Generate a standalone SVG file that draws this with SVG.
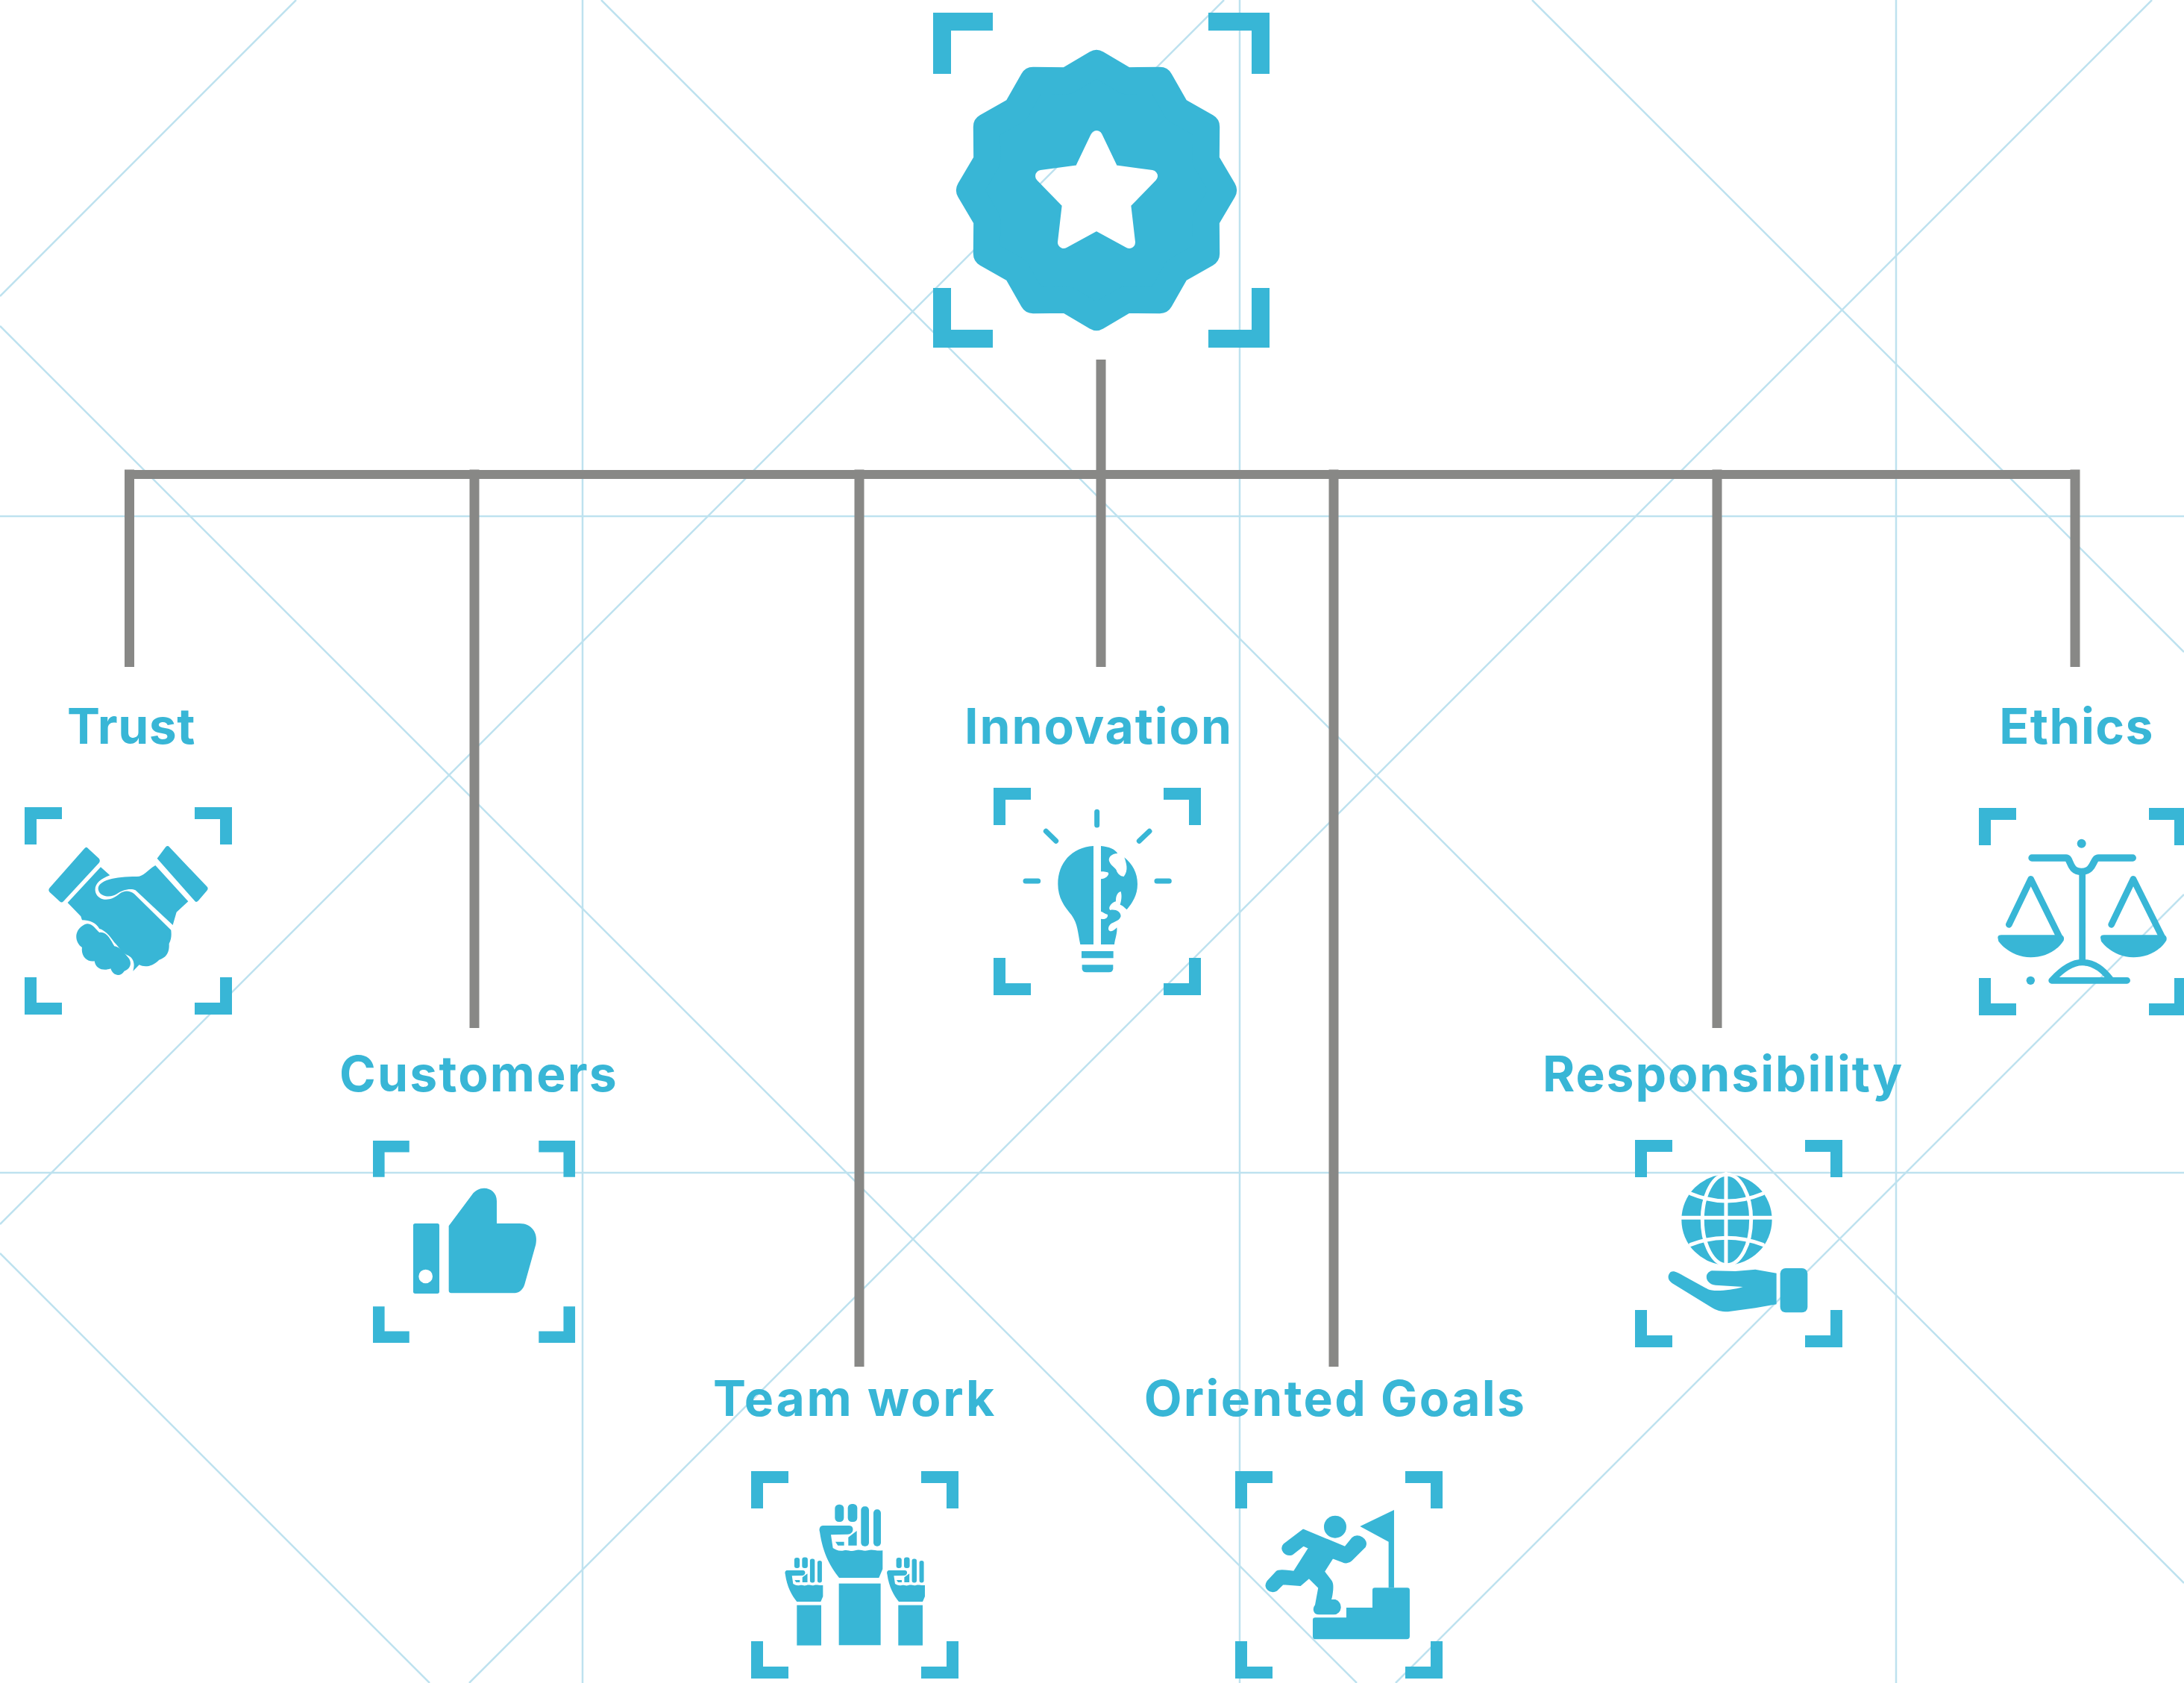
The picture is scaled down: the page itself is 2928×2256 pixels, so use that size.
<svg xmlns="http://www.w3.org/2000/svg" width="2928" height="2256" viewBox="0 0 2928 2256">
<style>
.g{stroke:#BEE2EF;stroke-width:2.5;fill:none}
.c{stroke:#888886;fill:none}
.h{stroke-width:12}
.v{stroke-width:13}
.i{fill:#38B6D6}
.w{fill:none;stroke:#fff;stroke-linecap:round}
.s{fill:none;stroke:#38B6D6;stroke-linecap:round;stroke-linejoin:round}
text{font-family:"Inter","Liberation Sans",sans-serif;font-weight:650;font-size:66px;fill:#38B6D6;text-anchor:middle}
</style>
<defs>
<path id="br" class="i" d="M0 0H50V16H16V50H0ZM278 0V50H262V16H228V0ZM0 278V228H16V262H50V278ZM278 278H228V262H262V228H278Z"/>
<mask id="starhole" maskUnits="userSpaceOnUse" x="1250" y="30" width="450" height="450">
<rect x="1250" y="30" width="450" height="450" fill="#fff"/>
<polygon transform="translate(1470,255)" fill="#000" stroke="#000" stroke-width="16" stroke-linejoin="round" points="0,-72 22,-26 74,-19 38,18 44,70 0,46 -44,70 -38,18 -74,-19 -22,-26"/>
</mask>
<g id="fist" class="i">
<path d="M477 700C490 790 520 840 555 885L715 885L730 850L730 775C700 778 690 768 670 775C650 780 640 768 620 775C600 782 590 770 575 775C555 780 540 772 530 765L522 712L590 710C615 710 618 675 595 675L490 675C478 675 473 688 477 700Z"/>
<rect x="538" y="590" width="36" height="70" rx="16"/>
<rect x="590" y="588" width="38" height="72" rx="16"/>
<rect x="643" y="598" width="32" height="160" rx="14"/>
<rect x="693" y="610" width="30" height="148" rx="14"/>
<path d="M592 722L626 696V755H592ZM540 740H575V755H550Z"/>
</g>
</defs>
<g id="grid">
<path class="g" d="M781 0V2256M1662 0V2256M2542 0V2256M0 692H2928M0 1572H2928"/>
<path class="g" d="M397 0L0 397M1641 0L0 1641M2885 0L629 2256M2928 1199L1871 2256"/>
<path class="g" d="M0 437L1819 2256M806 0L2928 2122M2054 0L2928 874M0 1680L576 2256"/>
</g>
<g id="connectors">
<path class="c h" d="M167 636H2788"/>
<path class="c v" d="M1476 482V894M173.500 629.500V894M636 629.500V1378M1152 629.500V1832M1788 629.500V1832M2302 629.500V1378M2782 629.500V894"/>
</g>
<g id="core">
<path class="i" d="M1251 17H1331V41H1275V99H1251ZM1702 17V99H1678V41H1620V17ZM1251 466V386H1275V442H1331V466ZM1702 466H1620V442H1678V386H1702Z"/>
<g mask="url(#starhole)">
<polygon class="i" transform="translate(1470,255)" stroke="#38B6D6" stroke-width="36" stroke-linejoin="round" points="170,0 146.800,39.300 147.200,85 107.500,107.500 85,147.200 39.300,146.800 0,170 -39.300,146.800 -85,147.200 -107.500,107.500 -147.200,85 -146.800,39.300 -170,0 -146.800,-39.300 -147.200,-85 -107.500,-107.500 -85,-147.200 -39.300,-146.800 0,-170 39.300,-146.800 85,-147.200 107.500,-107.500 147.200,-85 146.800,-39.300"/>
</g>
</g>
<g id="trust">
<text x="176" y="997" letter-spacing=".5">Trust</text>
<use href="#br" x="33" y="1082"/>
<g class="i" transform="translate(0,900) scale(.3333)">
<path d="M350 708Q345 705 340 712L200 870Q192 880 200 888L240 925Q248 932 255 925L398 770Q405 762 398 752Z"/>
<path d="M678 703Q670 700 665 708L632 752L785 925Q790 930 798 922L832 882Q840 872 832 865Z"/>
<path d="M625 780L757 925L710 968L695 1020L545 880C525 870 490 880 470 895C450 910 400 910 395 875C395 840 460 825 550 825C580 825 590 800 625 780Z"/>
<path d="M405 787L442 820C400 835 375 860 385 890C395 920 440 930 480 895C500 880 520 880 540 895L688 1040C690 1060 690 1075 680 1095C682 1130 670 1150 640 1160C610 1190 580 1190 560 1180L535 1205C545 1170 535 1150 510 1140C490 1130 480 1110 460 1090C440 1060 420 1040 400 1035C385 1010 360 1000 330 1000L325 985L272 930Z"/>
<path d="M340 1018C370 1005 385 1040 400 1050C430 1045 445 1080 460 1105C490 1110 505 1140 515 1150C530 1165 530 1195 500 1205C485 1230 455 1225 445 1195C420 1205 385 1200 380 1165C350 1170 325 1145 330 1110C305 1095 290 1045 340 1018Z"/>
</g>
</g>
<g id="customers">
<text x="642" y="1463" letter-spacing="2.200">Customers</text>
<use href="#br" transform="translate(500,1529) scale(.975)"/>
<g class="i" transform="translate(440,1380) scale(.3333)">
<rect x="342" y="780" width="105" height="282" rx="8"/>
<path d="M485 790L578 665C610 620 678 635 678 690L678 780L770 780C820 780 845 820 835 865L790 1025C782 1050 765 1060 745 1060L495 1060C488 1060 485 1055 485 1050Z"/>
<circle cx="392" cy="993" r="28" fill="#fff"/>
</g>
</g>
<g id="teamwork">
<text x="1146" y="1898" letter-spacing="2.800">Team work</text>
<use href="#br" x="1007" y="1972"/>
<g class="i" transform="translate(940,1820) scale(.3333)">
<rect x="554" y="908" width="168" height="248"/>
<rect x="385" y="995" width="98" height="162"/>
<rect x="793" y="995" width="98" height="162"/>
<use href="#fist"/>
<use href="#fist" transform="translate(52,450) scale(.6)"/>
<use href="#fist" transform="translate(462,450) scale(.6)"/>
</g>
</g>
<g id="innovation">
<text x="1473" y="997" letter-spacing="1.900">Innovation</text>
<use href="#br" x="1332" y="1056"/>
<g transform="translate(1280,920) scale(.3333)">
<path class="s" stroke-width="21" d="M572 505V558M367 583L407 622M783 583L742 622M285 783H335M813 783H862"/>
<path class="i" d="M558 642C470 648 415 710 415 795C415 850 440 885 470 920C495 955 495 990 505 1038H558Z"/>
<path class="i" d="M588 642C620 645 645 655 655 672C630 672 615 690 622 705C630 725 650 730 652 745C660 760 672 765 680 765C700 740 690 710 682 688C715 715 735 750 735 795C735 840 715 870 692 898C682 890 675 880 665 878C672 855 672 840 668 825C650 830 648 850 648 865C630 870 615 890 625 900C645 895 668 905 668 925C660 950 630 945 620 965C612 985 630 995 652 970C655 990 645 1015 642 1038H588V935C605 940 618 930 615 918C605 915 590 905 588 905V775C605 775 622 760 618 750C610 745 595 745 588 745Z"/>
<rect class="i" x="510" y="1065" width="128" height="28"/>
<path class="i" d="M512 1120H637V1135Q637 1150 620 1150H530Q512 1150 512 1135Z"/>
</g>
</g>
<g id="goals">
<text x="1790" y="1898" letter-spacing="2.300">Oriented Goals</text>
<use href="#br" x="1656" y="1972"/>
<g class="i" transform="translate(1540,1820) scale(.3333)">
<circle cx="750" cy="680" r="45"/>
<path d="M660 1055Q660 1045 670 1045L795 1045L795 1005L900 1005L900 935Q900 925 910 925L1040 925Q1050 925 1050 935L1050 1120Q1050 1132 1038 1132L670 1132Q660 1132 660 1120Z"/>
<path d="M965 925V740L850 678L987 612V925Z"/>
<path stroke="#38B6D6" stroke-width="6" stroke-linejoin="round" d="M622 692L790 762L820 725C840 705 885 730 870 760L815 815C805 825 790 825 780 820L740 805L705 860L735 900C745 915 735 970 730 975L750 975C780 985 775 1030 745 1030L685 1030C665 1030 660 1010 672 995L685 925L645 885L610 915L540 910L515 935C490 950 460 925 478 900L515 860C525 850 570 860 585 860L645 765L622 755L578 790C550 800 525 770 545 750Z"/>
</g>
</g>
<g id="responsibility">
<text x="2310" y="1463" letter-spacing="1.900">Responsibility</text>
<use href="#br" x="2192" y="1528"/>
<g transform="translate(2060,1390) scale(.3333)">
<circle class="i" cx="765" cy="735" r="182"/>
<g class="w" stroke-width="15">
<path d="M762 550V915M580 727H950"/>
<ellipse cx="765" cy="735" rx="98" ry="182"/>
<path d="M620 630Q765 690 910 630M620 835Q765 780 910 835"/>
</g>
<rect class="i" x="980" y="930" width="110" height="178" rx="22"/>
<path class="i" d="M535 950C545 935 565 945 590 960L690 1015C710 1025 780 1020 830 1005L720 998C680 995 670 950 705 940L800 942L880 935L965 950V1075L880 1090L770 1105C740 1105 725 1100 700 1085L545 990C530 980 525 965 535 950Z"/>
</g>
</g>
<g id="ethics">
<text x="2784" y="997" letter-spacing="1.400">Ethics</text>
<use href="#br" x="2653" y="1083"/>
<g transform="translate(2600,920) scale(.3333)">
<circle class="i" cx="572" cy="632" r="18"/>
<circle class="i" cx="367" cy="1183" r="17"/>
<path class="s" stroke-width="28" d="M372 690H510C530 690 520 745 572 745C625 745 615 690 640 690H778"/>
<path class="s" stroke-width="26" d="M575 745V1110M452 1183H755M452 1183C500 1130 540 1110 575 1110C620 1110 660 1140 690 1180M280 958L368 775L485 1012M692 958L780 775L898 1012"/>
<path class="i" id="pan" d="M235 1010Q235 1000 250 1000H490Q505 1005 500 1022C470 1070 415 1090 368 1090C310 1090 265 1060 238 1025Z"/>
<use href="#pan" x="413"/>
</g>
</g>
</svg>
